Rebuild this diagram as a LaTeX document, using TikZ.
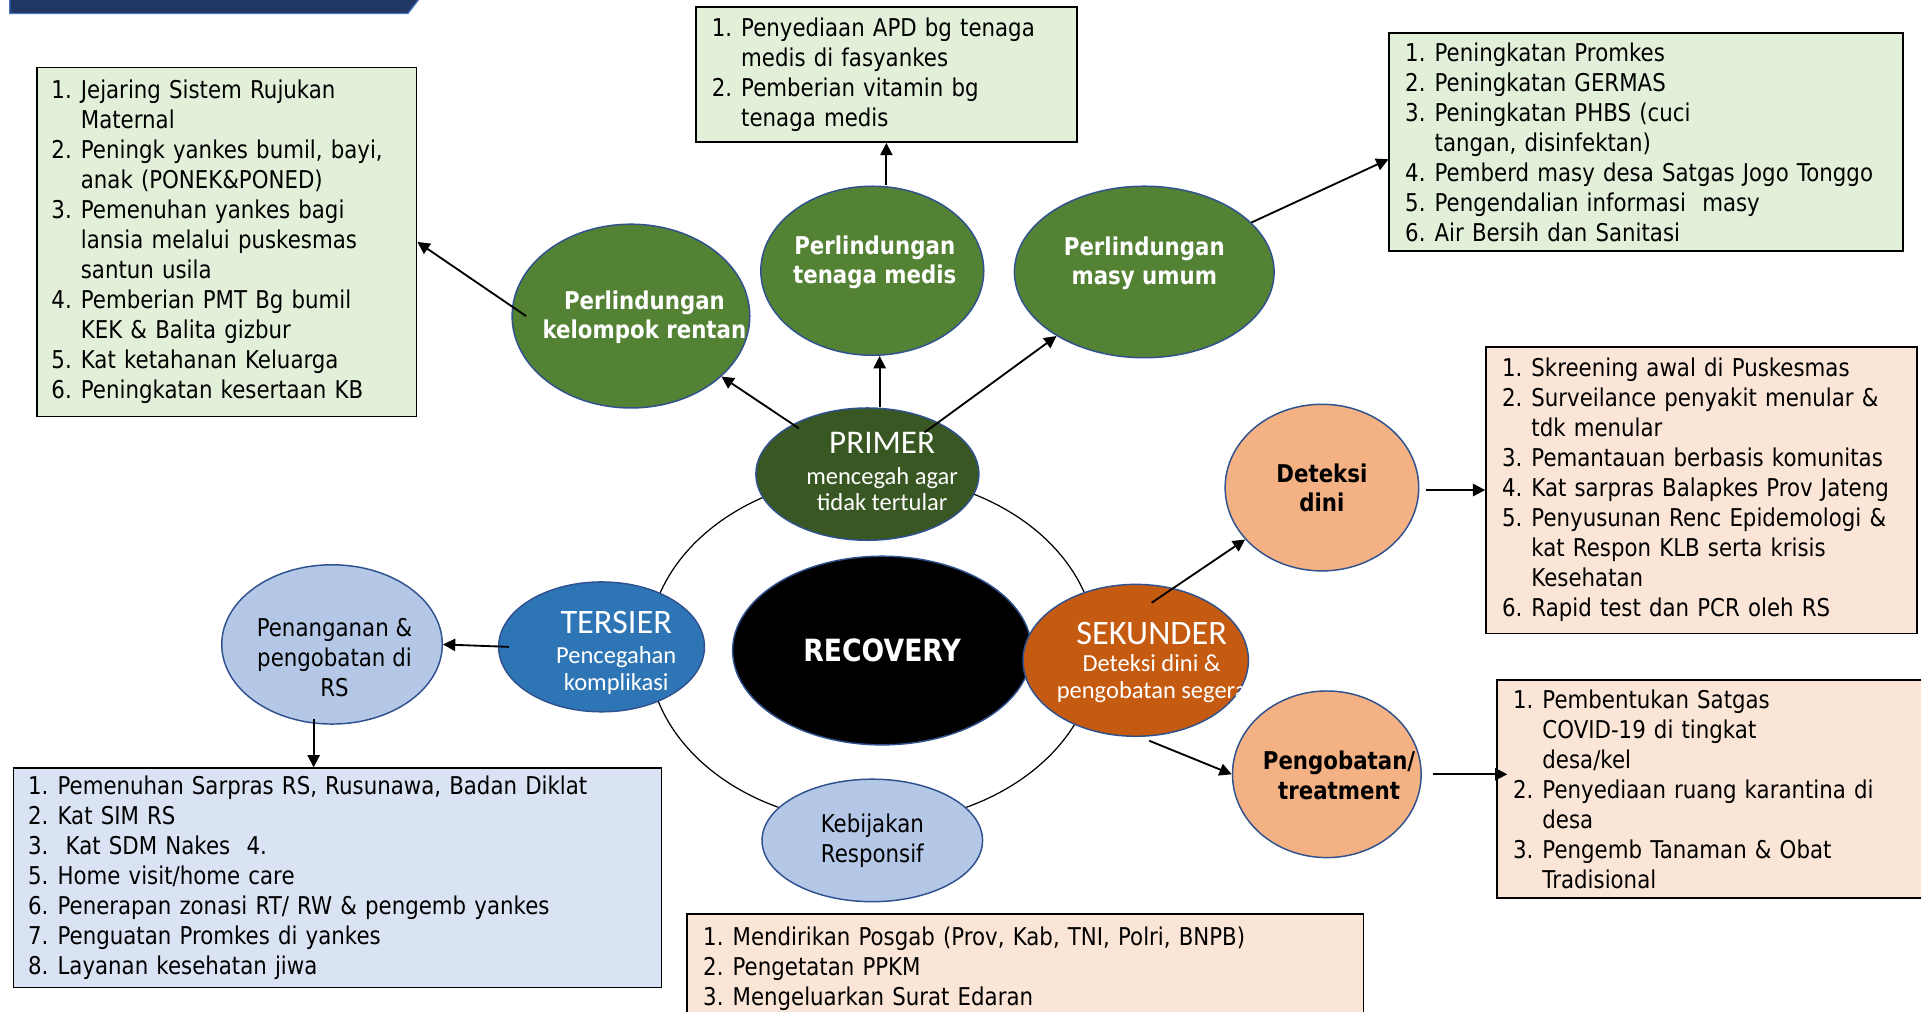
\documentclass[tikz,border=0pt]{standalone}
\usepackage{fontspec}
\setmainfont{DejaVu Sans}[FakeStretch=0.87]
\newfontfamily\calib{Carlito}
\usetikzlibrary{arrows.meta,shapes.geometric}
\definecolor{navy}{HTML}{203864}
\definecolor{navyln}{HTML}{4472C4}
\definecolor{ellln}{HTML}{2F528F}
\definecolor{grnfill}{HTML}{E2F0D9}
\definecolor{peachfill}{HTML}{FBE5D6}
\definecolor{bluefill}{HTML}{DAE3F3}
\definecolor{grn}{HTML}{548235}
\definecolor{dkgrn}{HTML}{385723}
\definecolor{ters}{HTML}{2E75B6}
\definecolor{sekun}{HTML}{C55A11}
\definecolor{peach}{HTML}{F4B183}
\definecolor{ltblue}{HTML}{B4C7E7}
\newcommand{\li}[2]{\mbox{\makebox[24pt][l]{#1}#2}}

\begin{document}
\begin{tikzpicture}[x=1pt, y=-1pt, every node/.style={font=\fontsize{20}{24.5}\selectfont},
  lst/.style={draw, line width=1.4pt, align=left, inner xsep=13pt, inner ysep=0pt},
  ell/.style={ellipse, draw=ellln, line width=1.2pt, inner sep=0pt},
  ttl/.style={font=\bfseries\fontsize{20}{24}\selectfont, text=white, align=center, inner sep=0pt},
  stg/.style={font=\calib\fontsize{20}{22}\selectfont, text=white, align=center, inner sep=0pt},
  arr/.style={line width=1.5pt, -{Triangle[length=10pt,width=10pt]}}]
\useasboundingbox (0,0) rectangle (1568,826);
\clip (0,0) rectangle (1568,826);
\draw[navyln, line width=1pt, fill=navy] (8,-2) -- (343,-2) -- (333,11) -- (8,11) -- cycle;

% ring and stages
\node[draw, ellipse, line width=1pt, minimum width=366pt, minimum height=284pt] (ring) at (712,530) {};
\node[ell, fill=black, minimum width=244pt, minimum height=154pt, text=white, font=\bfseries\fontsize{25}{30}\selectfont] (rec) at (720,531) {RECOVERY};
\node[ell, fill=dkgrn, minimum width=182pt, minimum height=108pt] (pri) at (708,387) {};
\node[ell, fill=ters, minimum width=168pt, minimum height=106pt] (ter) at (491,528) {};
\node[ell, fill=sekun, minimum width=184pt, minimum height=124pt] (sek) at (927,539) {};
\node[ell, fill=ltblue, minimum width=180pt, minimum height=100pt, align=center] (kbj) at (712,686) {Kebijakan\\Responsif};

\node[ell, fill=grn, minimum width=194pt, minimum height=150pt] (ren) at (515,258) {};
\node[ell, fill=grn, minimum width=182pt, minimum height=138pt] (med) at (712,221) {};
\node[ell, fill=grn, minimum width=212pt, minimum height=140pt] (mas) at (934,222) {};
\node[ell, fill=peach, minimum width=158pt, minimum height=136pt, align=center, font=\bfseries\fontsize{20}{24}\selectfont] (dd) at (1079,398) {Deteksi\\dini};
\node[ell, fill=peach, minimum width=154pt, minimum height=136pt] (pgb) at (1083,632) {};
\node[ell, fill=ltblue, minimum width=180pt, minimum height=130pt] (rs) at (271,526) {};

\node[ttl] (ren-t) at (526,259) {Perlindungan\\kelompok rentan};
\node[ttl] (med-t) at (714,214) {Perlindungan\\tenaga medis};
\node[ttl] (mas-t) at (934,215) {Perlindungan\\masy umum};
\node[ttl, text=black] (pgb-t) at (1093,633) {Pengobatan/\\treatment};
\node[inner sep=0pt, align=center] (rs-t) at (273,537) {Penanganan \&\\pengobatan di\\RS};
\node[stg] (pri-t) at (720,385) {{\fontsize{27}{27}\selectfont PRIMER}\\[3pt]mencegah agar\\tidak tertular};
\node[stg] (ter-t) at (503,533) {{\fontsize{28}{28}\selectfont TERSIER}\\[3pt]Pencegahan\\komplikasi};
\begin{scope}
\clip (sek.center) ellipse [x radius=92pt, y radius=62pt];
\node[stg] (sek-t) at (940,541) {{\fontsize{28}{28}\selectfont SEKUNDER}\\Deteksi dini \&\\pengobatan segera};
\end{scope}

% lists
\node[lst, fill=grnfill, inner xsep=12pt, text width=286pt, minimum height=285pt] (krl) at (185,197.5) {%
\li{1.}{Jejaring Sistem Rujukan}\\
\li{}{Maternal}\\
\li{2.}{Peningk yankes bumil, bayi,}\\
\li{}{anak (PONEK\&PONED)}\\
\li{3.}{Pemenuhan yankes bagi}\\
\li{}{lansia melalui puskesmas}\\
\li{}{santun usila}\\
\li{4.}{Pemberian PMT Bg bumil}\\
\li{}{KEK \& Balita gizbur}\\
\li{5.}{Kat ketahanan Keluarga}\\
\li{6.}{Peningkatan kesertaan KB}};
\node[lst, fill=grnfill, text width=285pt, minimum height=110pt] (tml) at (723.5,61) {%
\li{1.}{Penyediaan APD bg tenaga}\\
\li{}{medis di fasyankes}\\
\li{2.}{Pemberian vitamin bg}\\
\li{}{tenaga medis}};
\node[lst, fill=grnfill, text width=393pt, minimum height=178pt] (mul) at (1343.5,116) {%
\li{1.}{Peningkatan Promkes}\\
\li{2.}{Peningkatan GERMAS}\\
\li{3.}{Peningkatan PHBS (cuci}\\
\li{}{tangan, disinfektan)}\\
\li{4.}{Pemberd masy desa Satgas Jogo Tonggo}\\
\li{5.}{Pengendalian informasi\ \ masy}\\
\li{6.}{Air Bersih dan Sanitasi}};
\node[lst, fill=peachfill, text width=326pt, minimum height=234pt] (dtl) at (1389,400) {%
\li{1.}{Skreening awal di Puskesmas}\\
\li{2.}{Surveilance penyakit menular \&}\\
\li{}{tdk menular}\\
\li{3.}{Pemantauan berbasis komunitas}\\
\li{4.}{Kat sarpras Balapkes Prov Jateng}\\
\li{5.}{Penyusunan Renc Epidemologi \&}\\
\li{}{kat Respon KLB serta krisis}\\
\li{}{Kesehatan}\\
\li{6.}{Rapid test dan PCR oleh RS}};
\node[lst, fill=peachfill, text width=332pt, minimum height=178pt] (ptl) at (1401,644) {%
\li{1.}{Pembentukan Satgas}\\
\li{}{COVID-19 di tingkat}\\
\li{}{desa/kel}\\
\li{2.}{Penyediaan ruang karantina di}\\
\li{}{desa}\\
\li{3.}{Pengemb Tanaman \& Obat}\\
\li{}{Tradisional}};
\node[lst, fill=bluefill, inner xsep=12pt, text width=505pt, minimum height=179pt] (rsl) at (275.5,716.5) {%
\li{1.}{Pemenuhan Sarpras RS, Rusunawa, Badan Diklat}\\
\li{2.}{Kat SIM RS}\\
\li{3.}{\ Kat SDM Nakes\ \ 4.}\\
\li{5.}{Home visit/home care}\\
\li{6.}{Penerapan zonasi RT/ RW \& pengemb yankes}\\
\li{7.}{Penguatan Promkes di yankes}\\
\li{8.}{Layanan kesehatan jiwa}};
\node[lst, fill=peachfill, text width=526pt, minimum height=90pt] (kbl) at (837,791) {%
\li{1.}{Mendirikan Posgab (Prov, Kab, TNI, Polri, BNPB)}\\
\li{2.}{Pengetatan PPKM}\\
\li{3.}{Mengeluarkan Surat Edaran}};

% connectors
\draw[arr, shorten <=-6pt] (pri) -- (ren);
\draw[arr] ([xshift=10pt]pri.north) -- ([xshift=10pt]pri.north |- med.south);
\draw[arr, shorten <=-14pt] (pri) -- (mas);
\draw[arr] ([xshift=12pt]ren.west) -- (krl.east);
\draw[arr] (tml.south |- med.north) -- (tml.south);
\draw[arr] (mas) -- ([yshift=-14pt]mul.west);
\draw[arr] ([shift={(13,-47)}]sek.center) -- (dd);
\draw[arr] ([xshift=11pt,yshift=-3pt]sek.south) -- (pgb.west);
\draw[arr] ([xshift=5pt]dd.east |- dtl.west) -- (dtl.west);
\draw[arr] ([xshift=9pt]pgb.east) -- ([xshift=9pt]pgb.east -| ptl.west);
\draw[arr] ([xshift=9pt]ter.west) -- (rs.east);
\draw[arr] ([xshift=-15pt,yshift=5pt]rs.south) -- ([xshift=-15pt]rs.south |- rsl.north);
\end{tikzpicture}
\end{document}
